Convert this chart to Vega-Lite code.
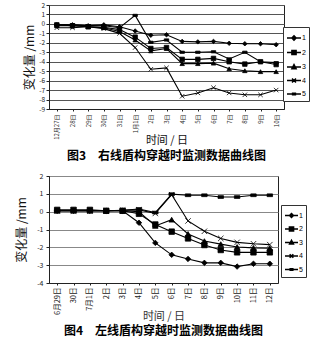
{
  "$schema": "https://vega.github.io/schema/vega-lite/v6.json",
  "background": "white",
  "padding": {"left": 15, "top": 1, "right": 0, "bottom": 0},
  "spacing": 8,
  "align": "none",
  "config": {
    "view": {"stroke": "#222", "strokeWidth": 1},
    "font": "Noto Sans CJK SC",
    "axis": {
      "labelFont": "Noto Sans CJK SC",
      "labelFontSize": 6.5,
      "labelColor": "#222",
      "domainColor": "#222",
      "tickColor": "#222",
      "titleFont": "Noto Sans CJK SC",
      "titleColor": "#111",
      "titleFontWeight": "normal"
    },
    "axisY": {"minExtent": 0},
    "legend": {"labelFont": "Liberation Sans", "strokeColor": "#333", "fillColor": "white"}
  },
  "datasets": {
    "c1": [
      {"d": "12月27日", "s": "1", "v": -0.1}, {"d": "28日", "s": "1", "v": -0.1}, {"d": "29日", "s": "1", "v": -0.2}, {"d": "30日", "s": "1", "v": -0.1}, {"d": "31日", "s": "1", "v": -0.3}, {"d": "1月1日", "s": "1", "v": -0.75}, {"d": "2日", "s": "1", "v": -1.2}, {"d": "3日", "s": "1", "v": -1.15}, {"d": "4日", "s": "1", "v": -1.85}, {"d": "5日", "s": "1", "v": -1.9}, {"d": "6日", "s": "1", "v": -1.85}, {"d": "7日", "s": "1", "v": -2.05}, {"d": "8日", "s": "1", "v": -2.1}, {"d": "9日", "s": "1", "v": -2.1}, {"d": "10日", "s": "1", "v": -2.2},
      {"d": "12月27日", "s": "2", "v": -0.1}, {"d": "28日", "s": "2", "v": -0.2}, {"d": "29日", "s": "2", "v": -0.3}, {"d": "30日", "s": "2", "v": -0.35}, {"d": "31日", "s": "2", "v": -0.6}, {"d": "1月1日", "s": "2", "v": -1.4}, {"d": "2日", "s": "2", "v": -2.6}, {"d": "3日", "s": "2", "v": -2.5}, {"d": "4日", "s": "2", "v": -3.75}, {"d": "5日", "s": "2", "v": -3.75}, {"d": "6日", "s": "2", "v": -3.65}, {"d": "7日", "s": "2", "v": -4.0}, {"d": "8日", "s": "2", "v": -4.25}, {"d": "9日", "s": "2", "v": -4.0}, {"d": "10日", "s": "2", "v": -4.3},
      {"d": "12月27日", "s": "3", "v": -0.2}, {"d": "28日", "s": "3", "v": -0.2}, {"d": "29日", "s": "3", "v": -0.3}, {"d": "30日", "s": "3", "v": -0.4}, {"d": "31日", "s": "3", "v": -0.8}, {"d": "1月1日", "s": "3", "v": -1.7}, {"d": "2日", "s": "3", "v": -2.85}, {"d": "3日", "s": "3", "v": -2.6}, {"d": "4日", "s": "3", "v": -4.2}, {"d": "5日", "s": "3", "v": -4.2}, {"d": "6日", "s": "3", "v": -4.15}, {"d": "7日", "s": "3", "v": -4.75}, {"d": "8日", "s": "3", "v": -4.95}, {"d": "9日", "s": "3", "v": -5.05}, {"d": "10日", "s": "3", "v": -5.05},
      {"d": "12月27日", "s": "4", "v": -0.4}, {"d": "28日", "s": "4", "v": -0.4}, {"d": "29日", "s": "4", "v": -0.3}, {"d": "30日", "s": "4", "v": -0.5}, {"d": "31日", "s": "4", "v": -1.0}, {"d": "1月1日", "s": "4", "v": -2.5}, {"d": "2日", "s": "4", "v": -4.8}, {"d": "3日", "s": "4", "v": -4.65}, {"d": "4日", "s": "4", "v": -7.65}, {"d": "5日", "s": "4", "v": -7.3}, {"d": "6日", "s": "4", "v": -6.75}, {"d": "7日", "s": "4", "v": -7.3}, {"d": "8日", "s": "4", "v": -7.5}, {"d": "9日", "s": "4", "v": -7.5}, {"d": "10日", "s": "4", "v": -7.0},
      {"d": "12月27日", "s": "5", "v": -0.1}, {"d": "28日", "s": "5", "v": -0.1}, {"d": "29日", "s": "5", "v": -0.2}, {"d": "30日", "s": "5", "v": -0.2}, {"d": "31日", "s": "5", "v": -0.4}, {"d": "1月1日", "s": "5", "v": 0.9}, {"d": "2日", "s": "5", "v": -1.95}, {"d": "3日", "s": "5", "v": -1.7}, {"d": "4日", "s": "5", "v": -3.0}, {"d": "5日", "s": "5", "v": -3.0}, {"d": "6日", "s": "5", "v": -2.95}, {"d": "7日", "s": "5", "v": -3.7}, {"d": "8日", "s": "5", "v": -3.0}, {"d": "9日", "s": "5", "v": -4.0}, {"d": "10日", "s": "5", "v": -4.1}
    ],
    "c2": [
      {"d": "6月29日", "s": "1", "v": 0.05}, {"d": "30日", "s": "1", "v": 0.05}, {"d": "7月1日", "s": "1", "v": 0.05}, {"d": "2日", "s": "1", "v": 0.05}, {"d": "3日", "s": "1", "v": 0.05}, {"d": "4日", "s": "1", "v": -0.62}, {"d": "5日", "s": "1", "v": -1.75}, {"d": "6日", "s": "1", "v": -2.42}, {"d": "7日", "s": "1", "v": -2.65}, {"d": "8日", "s": "1", "v": -2.87}, {"d": "9日", "s": "1", "v": -2.87}, {"d": "10日", "s": "1", "v": -3.08}, {"d": "11日", "s": "1", "v": -2.92}, {"d": "12日", "s": "1", "v": -2.92},
      {"d": "6月29日", "s": "2", "v": 0.1}, {"d": "30日", "s": "2", "v": 0.1}, {"d": "7月1日", "s": "2", "v": 0.1}, {"d": "2日", "s": "2", "v": 0.05}, {"d": "3日", "s": "2", "v": 0.05}, {"d": "4日", "s": "2", "v": -0.12}, {"d": "5日", "s": "2", "v": -0.72}, {"d": "6日", "s": "2", "v": -1.12}, {"d": "7日", "s": "2", "v": -1.5}, {"d": "8日", "s": "2", "v": -1.87}, {"d": "9日", "s": "2", "v": -2.15}, {"d": "10日", "s": "2", "v": -2.28}, {"d": "11日", "s": "2", "v": -2.28}, {"d": "12日", "s": "2", "v": -2.28},
      {"d": "6月29日", "s": "3", "v": 0.05}, {"d": "30日", "s": "3", "v": 0.05}, {"d": "7月1日", "s": "3", "v": 0.05}, {"d": "2日", "s": "3", "v": 0.05}, {"d": "3日", "s": "3", "v": 0.05}, {"d": "4日", "s": "3", "v": 0.0}, {"d": "5日", "s": "3", "v": -0.8}, {"d": "6日", "s": "3", "v": -0.45}, {"d": "7日", "s": "3", "v": -1.25}, {"d": "8日", "s": "3", "v": -1.65}, {"d": "9日", "s": "3", "v": -1.82}, {"d": "10日", "s": "3", "v": -1.98}, {"d": "11日", "s": "3", "v": -2.03}, {"d": "12日", "s": "3", "v": -2.05},
      {"d": "6月29日", "s": "4", "v": 0.05}, {"d": "30日", "s": "4", "v": 0.05}, {"d": "7月1日", "s": "4", "v": 0.05}, {"d": "2日", "s": "4", "v": 0.05}, {"d": "3日", "s": "4", "v": 0.08}, {"d": "4日", "s": "4", "v": 0.1}, {"d": "5日", "s": "4", "v": -0.1}, {"d": "6日", "s": "4", "v": 0.95}, {"d": "7日", "s": "4", "v": -0.52}, {"d": "8日", "s": "4", "v": -1.1}, {"d": "9日", "s": "4", "v": -1.5}, {"d": "10日", "s": "4", "v": -1.72}, {"d": "11日", "s": "4", "v": -1.8}, {"d": "12日", "s": "4", "v": -1.85},
      {"d": "6月29日", "s": "5", "v": 0.05}, {"d": "30日", "s": "5", "v": 0.05}, {"d": "7月1日", "s": "5", "v": 0.05}, {"d": "2日", "s": "5", "v": 0.05}, {"d": "3日", "s": "5", "v": 0.08}, {"d": "4日", "s": "5", "v": 0.15}, {"d": "5日", "s": "5", "v": -0.05}, {"d": "6日", "s": "5", "v": 0.98}, {"d": "7日", "s": "5", "v": 0.92}, {"d": "8日", "s": "5", "v": 0.92}, {"d": "9日", "s": "5", "v": 0.82}, {"d": "10日", "s": "5", "v": 0.82}, {"d": "11日", "s": "5", "v": 0.92}, {"d": "12日", "s": "5", "v": 0.92}
    ]
  },
  "vconcat": [
    {
      "data": {"name": "c1"},
      "width": 235,
      "height": 104,
      "title": {"text": "图3　右线盾构穿越时监测数据曲线图", "orient": "bottom", "anchor": "middle", "fontSize": 12, "fontWeight": "bold", "font": "Noto Sans CJK SC", "offset": 6, "color": "black"},
      "encoding": {
        "x": {"field": "d", "type": "ordinal", "scale": {"domain": ["12月27日", "28日", "29日", "30日", "31日", "1月1日", "2日", "3日", "4日", "5日", "6日", "7日", "8日", "9日", "10日"]}, "axis": {"labelAngle": -90, "labelFontSize": 6, "tickSize": 2, "labelPadding": 3, "title": "时间 / 日", "titleFontSize": 11, "titlePadding": -5}},
        "y": {"field": "v", "type": "quantitative", "scale": {"domain": [-9, 2], "nice": false}, "axis": {"values": [-9, -8, -7, -6, -5, -4, -3, -2, -1, 0, 1, 2], "labelExpr": "'' + datum.value", "grid": true, "gridColor": "#555", "tickSize": 3, "labelPadding": 1.5, "title": "变化量 /mm", "titleFontSize": 12, "titlePadding": 2}}
      },
      "layer": [
        {"mark": {"type": "line", "color": "black", "strokeWidth": 1.1}, "encoding": {"detail": {"field": "s"}}},
        {"mark": {"type": "point", "filled": true, "fill": "black", "stroke": "black", "strokeWidth": 0.8, "size": 20, "opacity": 1},
         "encoding": {"shape": {"field": "s", "type": "nominal", "scale": {"range": ["diamond", "square", "triangle-up", "M-1,-1L1,1M-1,1L1,-1", "M-1,-0.5H1V0.5H-1Z"]}, "legend": null}}},
        {"mark": {"type": "point", "filled": true, "fill": "black", "stroke": "black", "strokeWidth": 1, "opacity": 0},
         "encoding": {"shape": {"field": "s", "type": "nominal", "scale": {"range": ["M-1,0H1M0,-0.3L0.3,0L0,0.3L-0.3,0Z", "M-1,0H1M-0.3,-0.3H0.3V0.3H-0.3Z", "M-1,0H1M0,-0.34L0.3,0.24H-0.3Z", "M-1,0H1M-0.28,-0.28L0.28,0.28M-0.28,0.28L0.28,-0.28", "M-1,0H1M-0.2,-0.1H0.2V0.1H-0.2Z"]},
           "legend": {"orient": "none", "legendX": 234, "legendY": 22, "title": null, "padding": 3, "strokeColor": "#333", "fillColor": "white", "symbolSize": 196, "symbolOffset": 0, "labelOffset": 0, "labelFontSize": 7, "rowPadding": 0.5,
             "encode": {"legend": {"update": {"stroke": {"value": "#333"}, "strokeWidth": {"value": 1}}}, "symbols": {"update": {"stroke": {"value": "black"}, "strokeWidth": {"value": 1}, "fill": {"value": "black"}, "opacity": {"value": 1}, "size": {"value": 196}}}}}}}}
      ],
      "resolve": {"scale": {"shape": "independent"}}
    },
    {
      "data": {"name": "c2"},
      "width": 229,
      "height": 107,
      "title": {"text": "图4　左线盾构穿越时监测数据曲线图", "orient": "bottom", "anchor": "middle", "fontSize": 12, "fontWeight": "bold", "font": "Noto Sans CJK SC", "offset": 5, "color": "black"},
      "encoding": {
        "x": {"field": "d", "type": "ordinal", "scale": {"domain": ["6月29日", "30日", "7月1日", "2日", "3日", "4日", "5日", "6日", "7日", "8日", "9日", "10日", "11日", "12日"]}, "axis": {"labelAngle": -90, "labelFontSize": 7.5, "tickSize": 2, "labelPadding": 2, "title": "时间 / 日", "titleFontSize": 11, "titlePadding": -4, "titleColor": "#333"}},
        "y": {"field": "v", "type": "quantitative", "scale": {"domain": [-4, 2], "nice": false}, "axis": {"values": [-4, -3, -2, -1, 0, 1, 2], "labelExpr": "'' + datum.value", "grid": true, "gridColor": "#888", "tickSize": 3, "labelPadding": 3, "labelFontSize": 7, "title": "变化量 /mm", "titleFontSize": 12, "titlePadding": 8}}
      },
      "layer": [
        {"mark": {"type": "line", "color": "black", "strokeWidth": 1.1}, "encoding": {"detail": {"field": "s"}}},
        {"mark": {"type": "point", "filled": true, "fill": "black", "stroke": "black", "strokeWidth": 0.8, "size": 30, "opacity": 1},
         "encoding": {"shape": {"field": "s", "type": "nominal", "scale": {"range": ["diamond", "square", "triangle-up", "M-1,-1L1,1M-1,1L1,-1", "M-1,-0.5H1V0.5H-1Z"]}, "legend": null}}},
        {"mark": {"type": "point", "filled": true, "fill": "black", "stroke": "black", "strokeWidth": 1, "opacity": 0},
         "encoding": {"shape": {"field": "s", "type": "nominal", "scale": {"range": ["M-1,0H1M0,-0.3L0.3,0L0,0.3L-0.3,0Z", "M-1,0H1M-0.32,-0.32H0.32V0.32H-0.32Z", "M-1,0H1M0,-0.34L0.3,0.24H-0.3Z", "M-1,0H1M-0.28,-0.28L0.28,0.28M-0.28,0.28L0.28,-0.28", "M-1,0H1M-0.2,-0.1H0.2V0.1H-0.2Z"]},
           "legend": {"orient": "none", "legendX": 232, "legendY": 29, "title": null, "padding": 3, "strokeColor": "#333", "fillColor": "white", "symbolSize": 169, "symbolOffset": 0, "labelOffset": 0, "labelFontSize": 7, "rowPadding": 0.5,
             "encode": {"legend": {"update": {"stroke": {"value": "#333"}, "strokeWidth": {"value": 1}}}, "symbols": {"update": {"stroke": {"value": "black"}, "strokeWidth": {"value": 1}, "fill": {"value": "black"}, "opacity": {"value": 1}, "size": {"value": 169}}}}}}}}
      ],
      "resolve": {"scale": {"shape": "independent"}}
    }
  ]
}
